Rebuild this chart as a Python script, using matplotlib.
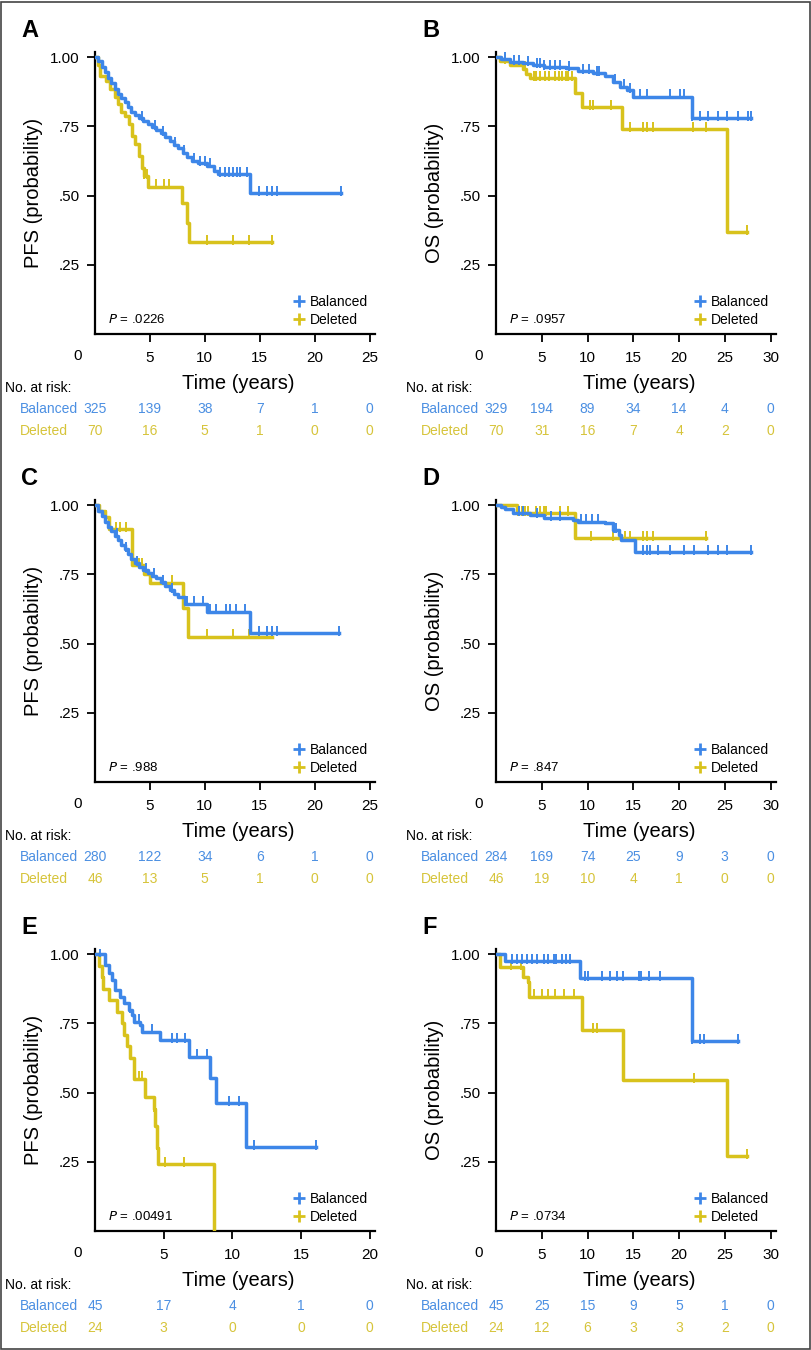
import numpy as np
import matplotlib
matplotlib.use('Agg')
import matplotlib.pyplot as plt
from matplotlib.lines import Line2D
from matplotlib.patches import Rectangle

plt.rcParams['font.family'] = ['Liberation Sans', 'DejaVu Sans']

BLUE = '#3d86e8'
GOLD = '#d8c21c'
BLUE_TXT = '#4b8fe2'
GOLD_TXT = '#d6c43a'

# ---- panel A (PFS) ----
A_bal_t = [0, 0.3, 0.6, 0.9, 1.2, 1.5, 1.8, 2.1, 2.4, 2.7, 3.0, 3.3, 3.6, 4.0, 4.4, 4.8, 5.2, 5.6,
           6.0, 6.4, 6.8, 7.2, 7.6, 8.0, 8.4, 8.8, 9.4, 10.2, 10.8, 11.2, 14.1, 22.4]
A_bal_s = [1.0, 0.985, 0.965, 0.945, 0.925, 0.905, 0.885, 0.868, 0.852, 0.836, 0.818, 0.803, 0.792,
           0.780, 0.770, 0.758, 0.748, 0.738, 0.726, 0.712, 0.698, 0.684, 0.670, 0.655, 0.640, 0.626,
           0.618, 0.608, 0.588, 0.578, 0.508, 0.508]
A_bal_c = [4.3, 5.5, 6.2, 7.3, 8.1, 9.0, 9.6, 10.0, 10.5, 11.4, 11.8, 12.2, 12.6, 12.9, 13.2, 13.8,
           14.9, 15.7, 16.1, 16.6, 22.4]
A_del_t = [0, 0.3, 0.45, 1.0, 1.4, 1.8, 2.1, 2.4, 2.7, 3.1, 3.4, 3.6, 4.0, 4.3, 4.5, 4.8, 7.9, 8.4, 8.6, 16.1]
A_del_s = [1.0, 0.97, 0.93, 0.915, 0.886, 0.857, 0.829, 0.80, 0.786, 0.757, 0.714, 0.686, 0.643, 0.60,
           0.571, 0.532, 0.472, 0.40, 0.333, 0.333]
A_del_c = [4.5, 4.7, 5.6, 6.3, 6.7, 10.2, 12.6, 14.0, 16.1]
A_risk_bal = [325, 139, 38, 7, 1, 0]
A_risk_del = [70, 16, 5, 1, 0, 0]

# ---- panel B (OS) ----
B_bal_t = [0, 0.5, 1.5, 3.0, 4.0, 5.2, 7.7, 9.0, 10.6, 11.9, 12.8, 13.5, 14.3, 15.0, 21.4, 27.9]
B_bal_s = [1.0, 0.994, 0.983, 0.977, 0.971, 0.965, 0.96, 0.948, 0.942, 0.93, 0.911, 0.893, 0.881,
           0.857, 0.779, 0.779]
B_bal_c = [1.0, 2.0, 2.5, 3.5, 4.5, 4.8, 5.3, 5.9, 6.4, 7.0, 8.0, 9.5, 10.2, 11.0, 11.3, 13.0, 14.0,
           14.6, 15.7, 16.5, 19.0, 20.1, 20.5, 21.4, 22.3, 23.2, 24.3, 25.2, 26.5, 27.5, 27.9]
B_del_t = [0, 0.44, 1.5, 3.0, 3.3, 3.7, 8.6, 9.35, 13.8, 25.2, 27.4]
B_del_s = [1.0, 0.986, 0.972, 0.958, 0.94, 0.923, 0.869, 0.82, 0.739, 0.369, 0.369]
B_del_c = [1.0, 3.2, 4.1, 4.4, 4.8, 5.4, 5.8, 6.5, 6.9, 7.2, 7.6, 7.9, 8.3, 10.3, 10.6, 12.6, 14.6,
           16.1, 16.5, 17.2, 21.5, 23.0, 27.4]
B_risk_bal = [329, 194, 89, 34, 14, 4, 0]
B_risk_del = [70, 31, 16, 7, 4, 2, 0]

# ---- panel C (PFS) ----
C_bal_t = [0, 0.3, 0.6, 0.9, 1.2, 1.5, 1.8, 2.1, 2.4, 2.7, 3.0, 3.3, 3.6, 4.0, 4.4, 4.8, 5.2, 5.6,
           6.0, 6.4, 6.8, 7.2, 7.6, 8.2, 10.2, 14.1, 22.2]
C_bal_s = [1.0, 0.98, 0.96, 0.94, 0.922, 0.905, 0.89, 0.875, 0.857, 0.84, 0.822, 0.805, 0.79, 0.775,
           0.765, 0.755, 0.745, 0.735, 0.722, 0.708, 0.693, 0.68, 0.668, 0.644, 0.615, 0.537, 0.537]
C_bal_c = [2.0, 2.8, 3.8, 4.6, 5.4, 6.2, 7.0, 8.4, 9.0, 9.8, 10.5, 11.0, 11.9, 12.3, 12.8, 13.7,
           14.9, 15.7, 16.1, 16.6, 22.2]
C_del_t = [0, 0.4, 0.9, 1.3, 3.35, 4.5, 5.0, 8.0, 8.5, 16.1]
C_del_s = [1.0, 0.978, 0.957, 0.913, 0.783, 0.75, 0.72, 0.63, 0.525, 0.525]
C_del_c = [1.0, 1.9, 2.3, 2.8, 4.0, 4.3, 7.0, 10.2, 12.6, 14.0, 16.1]
C_risk_bal = [280, 122, 34, 6, 1, 0]
C_risk_del = [46, 13, 5, 1, 0, 0]

# ---- panel D (OS) ----
D_bal_t = [0, 0.5, 1.0, 1.9, 3.7, 5.2, 8.4, 9.0, 11.9, 12.8, 13.4, 13.7, 15.2, 27.9]
D_bal_s = [1.0, 0.994, 0.985, 0.97, 0.964, 0.952, 0.946, 0.94, 0.934, 0.91, 0.892, 0.874, 0.83, 0.83]
D_bal_c = [2.5, 3.0, 4.5, 6.0, 7.0, 9.3, 9.8, 10.5, 11.1, 12.9, 13.1, 16.1, 16.5, 16.8, 17.7, 19.0,
           20.5, 21.6, 23.2, 24.3, 25.2, 27.9]
D_del_t = [0, 2.3, 8.6, 23.0]
D_del_s = [1.0, 0.97, 0.882, 0.882]
D_del_c = [2.4, 2.8, 3.2, 3.5, 4.4, 4.8, 5.2, 5.5, 7.0, 7.9, 10.4, 12.8, 14.1, 14.6, 16.1, 16.5, 17.2, 23.0]
D_risk_bal = [284, 169, 74, 25, 9, 3, 0]
D_risk_del = [46, 19, 10, 4, 1, 0, 0]

# ---- panel E (PFS) ----
E_bal_t = [0, 0.75, 1.0, 1.24, 1.48, 1.85, 2.09, 2.45, 2.7, 2.82, 3.3, 3.43, 4.77, 6.83, 8.4, 8.78,
           10.97, 16.1]
E_bal_s = [1.0, 0.96, 0.93, 0.906, 0.87, 0.846, 0.822, 0.798, 0.78, 0.756, 0.744, 0.72, 0.69, 0.63,
           0.551, 0.461, 0.304, 0.304]
E_bal_c = [0.4, 2.58, 3.19, 4.16, 5.62, 5.98, 6.59, 7.44, 8.17, 9.75, 10.5, 11.6, 16.1]
E_del_t = [0, 0.26, 0.51, 0.6, 1.0, 1.6, 1.97, 2.09, 2.33, 2.58, 2.82, 3.67, 4.28, 4.4, 4.5, 4.6, 8.66]
E_del_s = [1.0, 0.958, 0.917, 0.875, 0.833, 0.792, 0.75, 0.708, 0.667, 0.625, 0.55, 0.483, 0.44,
           0.38, 0.30, 0.242, 0.0]
E_del_c = [3.2, 3.4, 4.3, 5.1, 6.5]
E_risk_bal = [45, 17, 4, 1, 0]
E_risk_del = [24, 3, 0, 0, 0]

# ---- panel F (OS) ----
F_bal_t = [0, 0.98, 9.19, 21.4, 26.5]
F_bal_s = [1.0, 0.975, 0.912, 0.687, 0.687]
F_bal_c = [1.7, 2.3, 2.8, 3.4, 3.9, 4.5, 5.2, 5.7, 6.3, 6.6, 7.2, 7.7, 8.1, 9.7, 10.1, 11.6, 12.5,
           13.2, 13.9, 15.6, 15.9, 16.7, 17.9, 21.4, 22.3, 22.7, 26.5]
F_del_t = [0, 0.44, 2.99, 3.5, 3.65, 9.38, 13.9, 25.2, 27.4]
F_del_s = [1.0, 0.954, 0.918, 0.90, 0.846, 0.726, 0.545, 0.271, 0.271]
F_del_c = [1.6, 2.7, 4.1, 5.0, 5.7, 6.5, 7.4, 8.5, 10.6, 11.0, 21.6, 27.4]
F_risk_bal = [45, 25, 15, 9, 5, 1, 0]
F_risk_del = [24, 12, 6, 3, 3, 2, 0]

panels = [
    ('A', 'PFS (probability)', '.0226', 25, A_bal_t, A_bal_s, A_bal_c, A_del_t, A_del_s, A_del_c, A_risk_bal, A_risk_del),
    ('B', 'OS (probability)', '.0957', 30, B_bal_t, B_bal_s, B_bal_c, B_del_t, B_del_s, B_del_c, B_risk_bal, B_risk_del),
    ('C', 'PFS (probability)', '.988', 25, C_bal_t, C_bal_s, C_bal_c, C_del_t, C_del_s, C_del_c, C_risk_bal, C_risk_del),
    ('D', 'OS (probability)', '.847', 30, D_bal_t, D_bal_s, D_bal_c, D_del_t, D_del_s, D_del_c, D_risk_bal, D_risk_del),
    ('E', 'PFS (probability)', '.00491', 20, E_bal_t, E_bal_s, E_bal_c, E_del_t, E_del_s, E_del_c, E_risk_bal, E_risk_del),
    ('F', 'OS (probability)', '.0734', 30, F_bal_t, F_bal_s, F_bal_c, F_del_t, F_del_s, F_del_c, F_risk_bal, F_risk_del),
]

W, H = 812, 1350
fig = plt.figure(figsize=(W / 100, H / 100), dpi=100)

col_left = [95, 496]
row_top = [51.5, 499.5, 948.5]
row_bot = [334, 782, 1231]
ax_w = 280
TXT = 10


def step_at(t, s, c):
    idx = np.searchsorted(t, c, side='right') - 1
    return np.asarray(s)[idx]


for i, (letter, ylab, pval, xmax, bt, bs, bc, dt, ds, dc, rb, rd) in enumerate(panels):
    r, col = i // 2, i % 2
    left, top, bot = col_left[col], row_top[r], row_bot[r]
    ax = fig.add_axes([left / W, 1 - bot / H, ax_w / W, (bot - top) / H])

    ax.step(dt, ds, where='post', color=GOLD, lw=2.5, zorder=3)
    ax.plot(dc, np.array(step_at(dt, ds, dc)) + 0.008, ls='none', marker='|', ms=6.5, mew=1.4,
            color=GOLD, zorder=3)
    ax.step(bt, bs, where='post', color=BLUE, lw=2.5, zorder=4)
    ax.plot(bc, np.array(step_at(bt, bs, bc)) + 0.008, ls='none', marker='|', ms=6.5, mew=1.4,
            color=BLUE, zorder=4)

    ax.set_xlim(0, xmax * 1.02)
    ax.set_ylim(0, 1.02)
    ticks = list(range(5, xmax + 1, 5))
    ax.set_xticks(ticks)
    ax.set_xticklabels([str(t) for t in ticks])
    ax.set_yticks([0.25, 0.5, 0.75, 1.0])
    ax.set_yticklabels(['.25', '.50', '.75', '1.00'])
    for sp in ['top', 'right']:
        ax.spines[sp].set_visible(False)
    for sp in ['left', 'bottom']:
        ax.spines[sp].set_linewidth(1.6)
    ax.tick_params(direction='out', length=6, width=1.3, labelsize=11)
    ax.tick_params(axis='x', pad=6)
    ax.tick_params(axis='y', pad=5)
    ax.annotate('0', xy=(0, 0), xytext=(-17, -22), textcoords='offset pixels',
                ha='center', va='center', fontsize=11)

    ax.set_ylabel(ylab, fontsize=14.5)
    ax.yaxis.label.set_va('center')
    ax.yaxis.set_label_coords(-0.221, 0.5)
    ax.set_xlabel('Time (years)', fontsize=14.5)
    ax.xaxis.label.set_va('center')
    ax.xaxis.set_label_coords(0.513, -0.1745)

    ax.text(0.046, 0.053, r'$\it{P}$ = ' + pval, transform=ax.transAxes, fontsize=9.5,
            ha='left', va='center')
    handles = [Line2D([], [], color=BLUE, marker='+', ls='none', ms=9, mew=2),
               Line2D([], [], color=GOLD, marker='+', ls='none', ms=9, mew=2)]
    ax.legend(handles, ['Balanced', 'Deleted'], loc='lower right', bbox_to_anchor=(1.0, 0.0),
              frameon=False, fontsize=TXT, handlelength=0.8, handletextpad=0.4,
              borderaxespad=0.1, labelspacing=0.3)

    # risk table
    risk_t = list(range(0, xmax + 1, 5))
    ax.annotate('No. at risk:', xy=(0, 0), xytext=(-90, -54), textcoords='offset pixels',
                ha='left', va='center', fontsize=TXT, annotation_clip=False)
    ax.annotate('Balanced', xy=(0, 0), xytext=(-75, -75), textcoords='offset pixels',
                ha='left', va='center', fontsize=TXT, color=BLUE_TXT, annotation_clip=False)
    ax.annotate('Deleted', xy=(0, 0), xytext=(-75, -97), textcoords='offset pixels',
                ha='left', va='center', fontsize=TXT, color=GOLD_TXT, annotation_clip=False)
    for t, nb, nd in zip(risk_t, rb, rd):
        ax.annotate(str(nb), xy=(t, 0), xytext=(0, -75), textcoords='offset pixels',
                    ha='center', va='center', fontsize=TXT, color=BLUE_TXT, annotation_clip=False)
        ax.annotate(str(nd), xy=(t, 0), xytext=(0, -97), textcoords='offset pixels',
                    ha='center', va='center', fontsize=TXT, color=GOLD_TXT, annotation_clip=False)

    fig.text((left - 74) / W, 1 - (top - 21) / H, letter, fontsize=17, fontweight='bold',
             ha='left', va='center')

fig.patches.append(Rectangle((1 / W, 1 / H), (W - 3) / W, (H - 3) / H, transform=fig.transFigure,
                             fill=False, lw=1.2, ec='#444444'))

fig.savefig('out.png', dpi=100)
